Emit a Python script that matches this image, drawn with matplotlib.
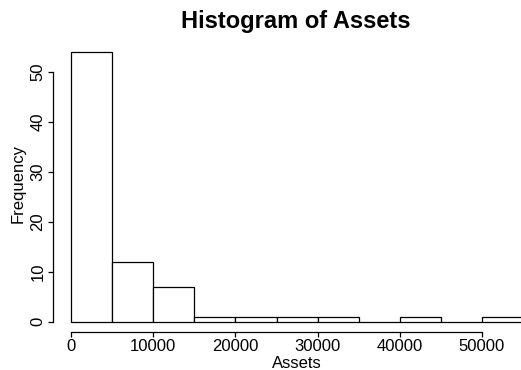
import numpy as np
import matplotlib.pyplot as plt

# bin edges and counts of the assets histogram
bin_edges = [0, 5000, 10000, 15000, 20000, 25000, 30000, 35000, 40000, 45000, 50000, 55000]
counts = [54, 12, 7, 1, 1, 1, 1, 0, 1, 0, 1]
x_ticks = [0, 10000, 20000, 30000, 40000, 50000]
y_ticks = [0, 10, 20, 30, 40, 50]

plt.rcParams["font.family"] = ["Liberation Sans", "DejaVu Sans"]

W, H = 521, 370
fig = plt.figure(figsize=(W / 100, H / 100), dpi=100)
ax = fig.add_axes([0.1017, 0.1014, 0.937, 0.788])

edges = np.array(bin_edges)
ax.bar(edges[:-1], counts, width=np.diff(edges), align="edge",
       facecolor="white", edgecolor="black", linewidth=0.9)

# R-style axis ranges: 4% padding around the data
x_pad = 0.04 * (edges[-1] - edges[0])
ax.set_xlim(edges[0] - x_pad, edges[-1] + x_pad)
y_pad = 0.04 * max(counts)
ax.set_ylim(-y_pad, max(counts) + y_pad)

for side in ["top", "right"]:
    ax.spines[side].set_visible(False)
ax.spines["left"].set_bounds(y_ticks[0], y_ticks[-1])
ax.spines["bottom"].set_bounds(x_ticks[0], x_ticks[-1])
for side in ["left", "bottom"]:
    ax.spines[side].set_linewidth(0.9)

ax.set_xticks(x_ticks)
ax.set_yticks(y_ticks)
ax.tick_params(axis="both", length=3.8, width=0.9, labelsize=12)
ax.tick_params(axis="x", pad=1)
ax.tick_params(axis="y", pad=1.5)
for lbl in ax.get_yticklabels():
    lbl.set_rotation(90)
    lbl.set_va("center")

fig.text(296 / W, 1 - 28.3 / H, "Histogram of Assets",
         ha="center", va="baseline", fontsize=17, fontweight="bold")
fig.text(297 / W, 1 - 368.3 / H, "Assets", ha="center", va="baseline", fontsize=12)
fig.text(18.5 / W, 1 - 183 / H, "Frequency", ha="center", va="center",
         rotation=90, fontsize=12)

fig.savefig("out.png", dpi=100)
